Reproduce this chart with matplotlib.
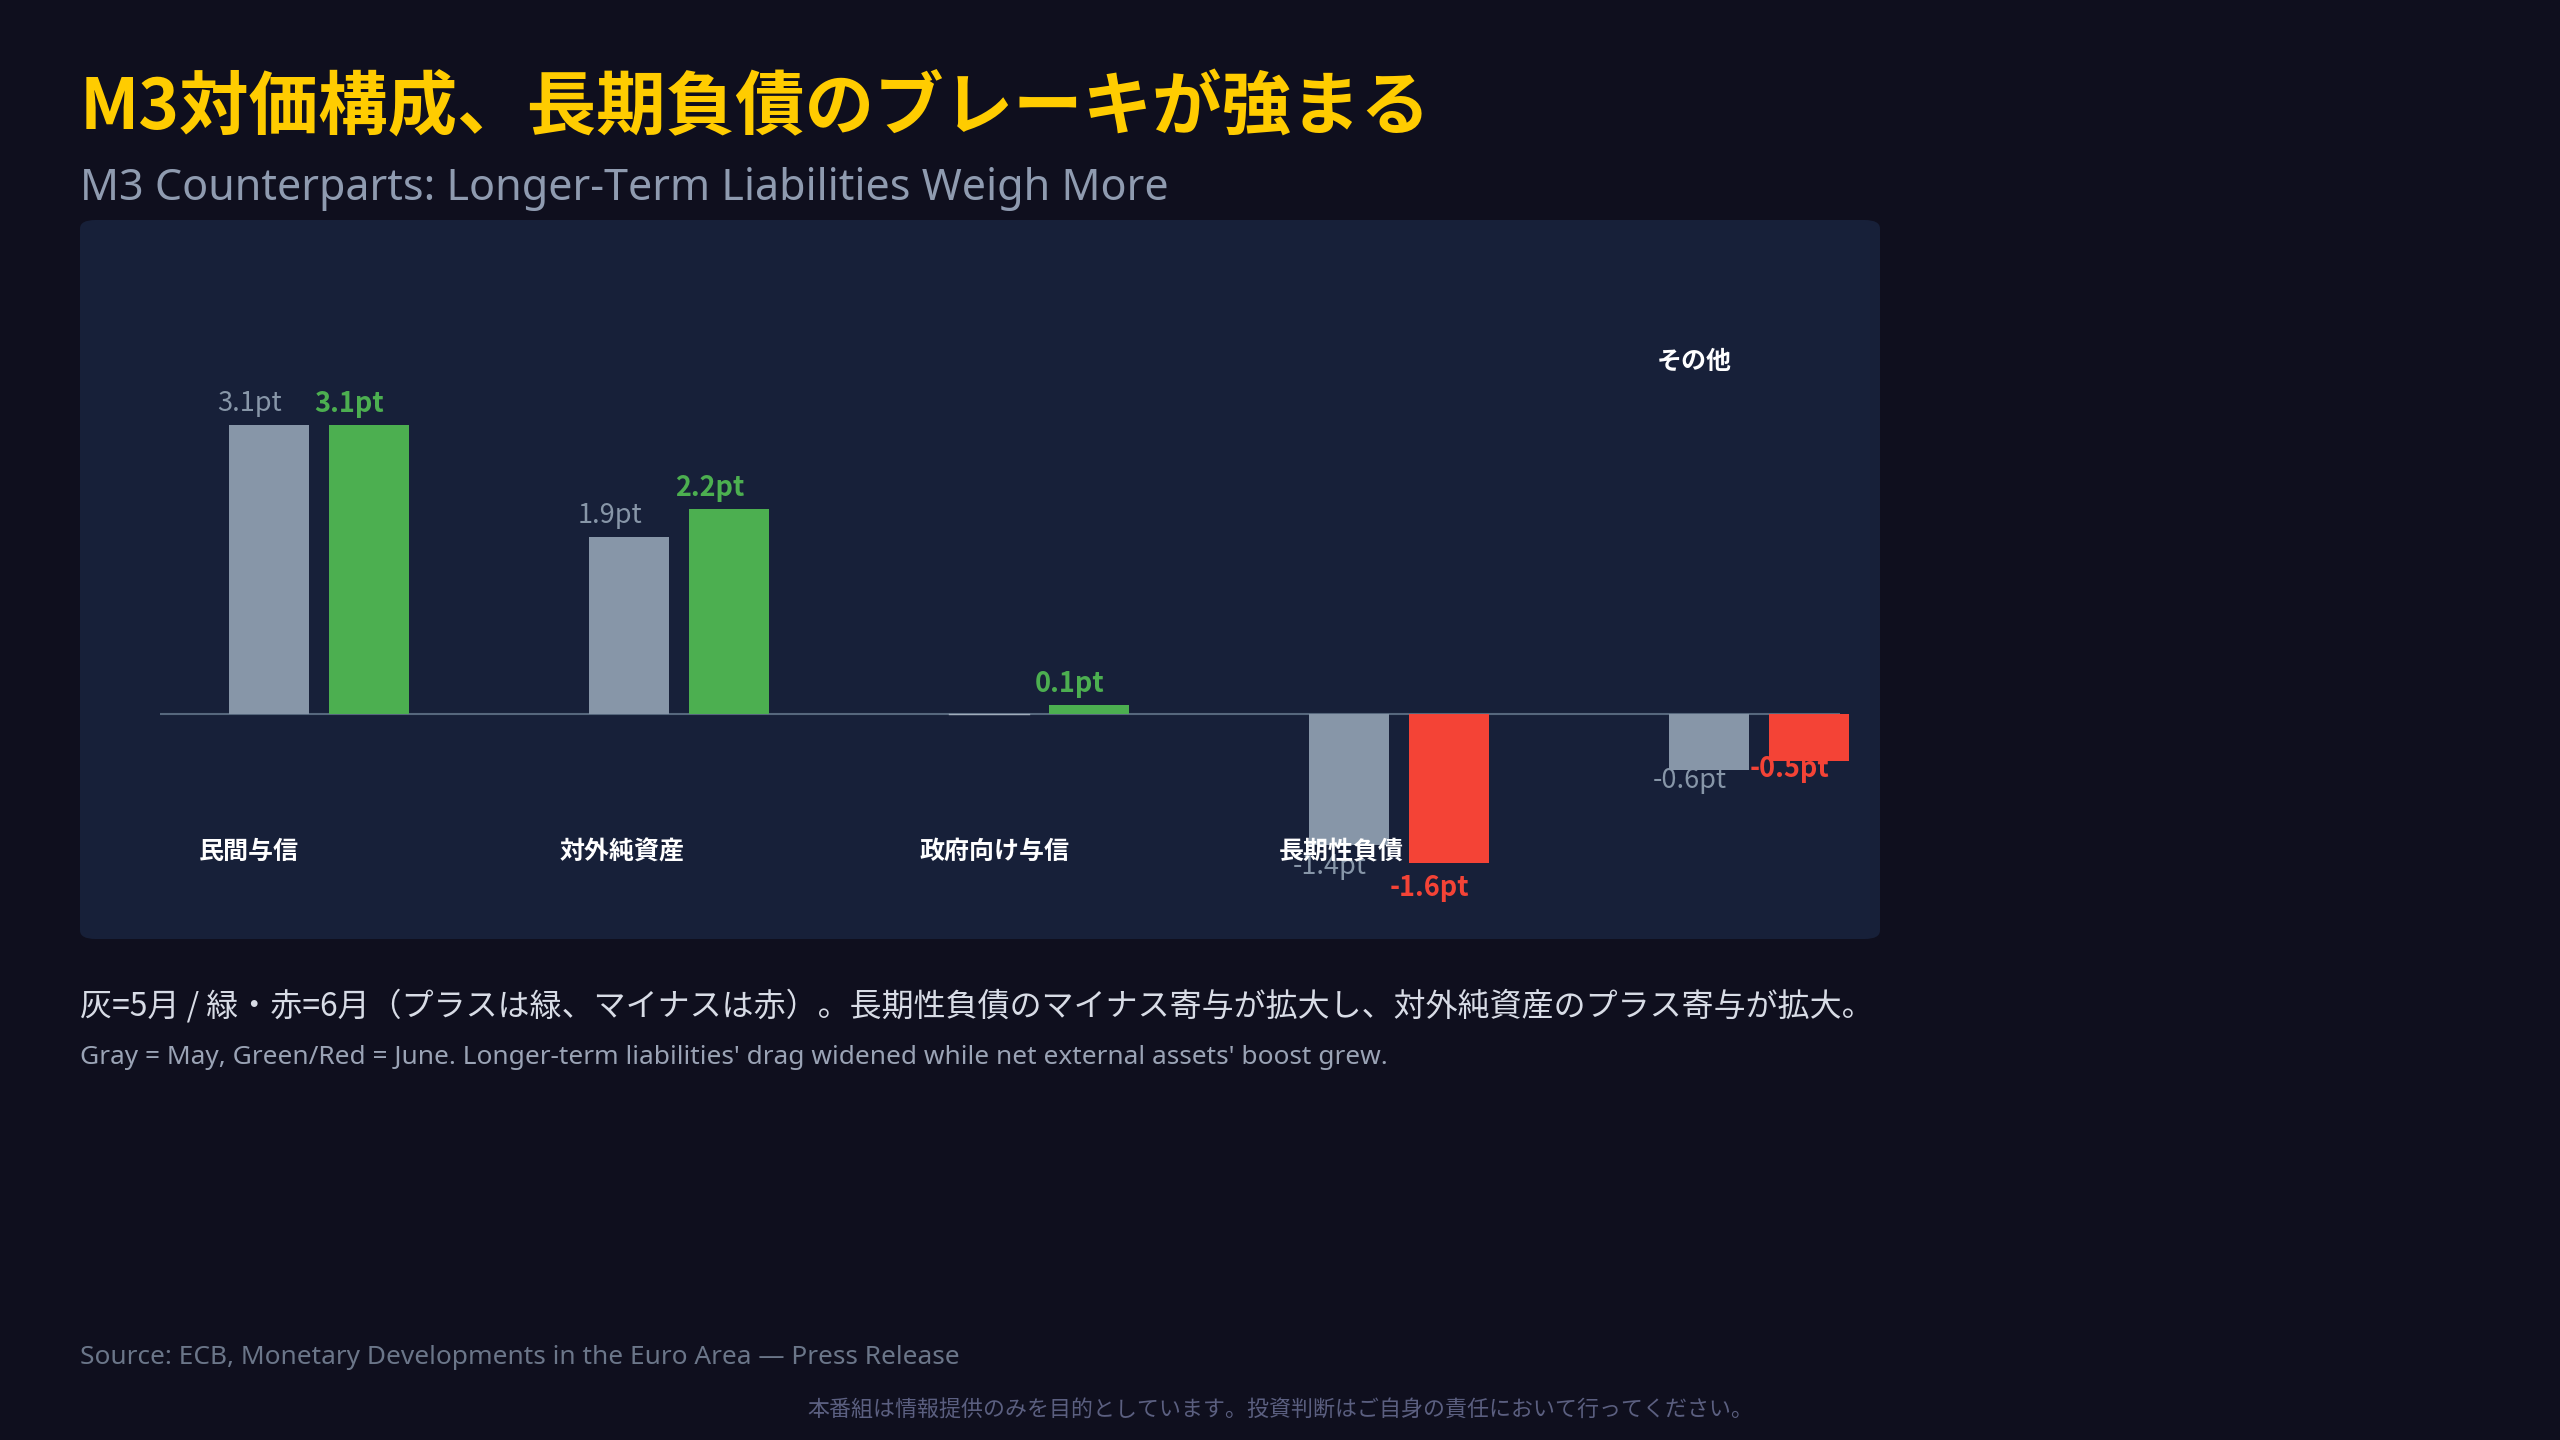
import matplotlib
matplotlib.use("Agg")
import matplotlib.pyplot as plt
from matplotlib.patches import FancyBboxPatch
import numpy as np

plt.rcParams['font.family'] = ['Noto Sans CJK JP', 'DejaVu Sans']

# ---- data ----
categories = ["民間与信", "対外純資産", "政府向け与信", "長期性負債", "その他"]
may_values = [3.1, 1.9, 0.0, -1.4, -0.6]
june_values = [3.1, 2.2, 0.1, -1.6, -0.5]
title = "M3対価構成、長期負債のブレーキが強まる"
subtitle = "M3 Counterparts: Longer-Term Liabilities Weigh More"
note_jp = "灰=5月 / 緑・赤=6月（プラスは緑、マイナスは赤）。長期性負債のマイナス寄与が拡大し、対外純資産のプラス寄与が拡大。"
note_en = "Gray = May, Green/Red = June. Longer-term liabilities' drag widened while net external assets' boost grew."
source = "Source: ECB, Monetary Developments in the Euro Area — Press Release"
disclaimer = "本番組は情報提供のみを目的としています。投資判断はご自身の責任において行ってください。"

# ---- style ----
BG = "#0f0f1e"
PANEL = "#172039"
GRAY = "#8796a8"
GREEN = "#4caf50"
RED = "#f44336"
W, H = 2560, 1440

fig = plt.figure(figsize=(W / 100, H / 100), dpi=100, facecolor=BG)

def fx(px):
    return px / W

def fy(py):
    return 1 - py / H

# panel
panel = FancyBboxPatch((fx(80), fy(939)), fx(1880) - fx(80), fy(220) - fy(939),
                       boxstyle="round,pad=0,rounding_size=0.006",
                       transform=fig.transFigure, facecolor=PANEL, edgecolor="none",
                       zorder=-5)
fig.patches.append(panel)

# axes geometry (pixels)
ax_left, ax_right, ax_top, ax_bot = 160, 1840, 300, 900
ax = fig.add_axes([fx(ax_left), fy(ax_bot), fx(ax_right) - fx(ax_left), fy(ax_top) - fy(ax_bot)])
ax.set_zorder(5)
ax.set_facecolor("none")
px_per_x = 360.0
x0_px = 319.0
ax.set_xlim((ax_left - x0_px) / px_per_x, (ax_right - x0_px) / px_per_x)
px_per_y = 93.3
base_px = 714.0
ax.set_ylim(-(ax_bot - base_px) / px_per_y, (base_px - ax_top) / px_per_y)
for s in ax.spines.values():
    s.set_visible(False)
ax.set_xticks([])
ax.set_yticks([])

x = np.arange(len(categories))
bw = 80 / px_per_x
off = 100 / 2 / px_per_x

ax.axhline(0, color="#56677d", lw=1.5, zorder=1)

june_colors = [GREEN if v >= 0 else RED for v in june_values]
ax.bar(x - off, may_values, width=bw, color=GRAY, zorder=2, clip_on=False)
ax.bar(x + off, june_values, width=bw, color=june_colors, zorder=2, clip_on=False)
# thin trace for zero-valued May bar
for xi, v in zip(x, may_values):
    if v == 0:
        ax.plot([xi - off - bw / 2, xi - off + bw / 2], [0, 0], color="#a0acbb", lw=1.0, zorder=3)

def label(xc, v, color, weight):
    if v == 0:
        return
    if v > 0:
        ax.annotate(f"{v:.1f}pt", (xc, v), xytext=(-14, 15), textcoords="offset points",
                    ha="center", va="center", fontsize=19.5, color=color,
                    fontweight=weight, zorder=4, annotation_clip=False)
    else:
        ax.annotate(f"{v:.1f}pt", (xc, v * 1.158), xytext=(-14, -1), textcoords="offset points",
                    ha="center", va="center", fontsize=19.5, color=color,
                    fontweight=weight, zorder=4, annotation_clip=False)

for xi, v in zip(x, may_values):
    label(xi - off, v, GRAY, "normal")
for xi, v, c in zip(x, june_values, june_colors):
    label(xi + off, v, c, "bold")

# category labels
for i, cat in enumerate(categories):
    if i < len(categories) - 1:
        ax.text(x[i] - 0.333, -1.48, cat, ha="left", va="center", fontsize=18,
                color="white", fontweight="bold", zorder=5, clip_on=False)
    else:
        ax.text(x[i] - 0.283, 3.775, cat, ha="left", va="center", fontsize=18,
                color="white", fontweight="bold", zorder=5, clip_on=False)

# texts
fig.text(fx(80), fy(129), title, fontsize=50, fontweight="bold", color="#ffcc00",
         ha="left", va="baseline")
fig.text(fx(80), fy(200), subtitle, fontsize=31, color="#8f9bb0",
         ha="left", va="baseline", family=["Noto Sans", "DejaVu Sans"])
fig.text(fx(80), fy(1006), note_jp, fontsize=23, color="#d8dce6", ha="left", va="center")
fig.text(fx(80), fy(1058), note_en, fontsize=18.9, color="#9aa3b5", ha="left", va="center",
         family=["Noto Sans", "DejaVu Sans"])
fig.text(fx(80), fy(1358), source, fontsize=18.9, color="#6b7689", ha="left", va="center",
         family=["Noto Sans", "DejaVu Sans"])
fig.text(0.5, fy(1411), disclaimer, fontsize=15.8, color="#5b5f80", ha="center", va="center")

fig.savefig("out.png", dpi=100, facecolor=BG)
